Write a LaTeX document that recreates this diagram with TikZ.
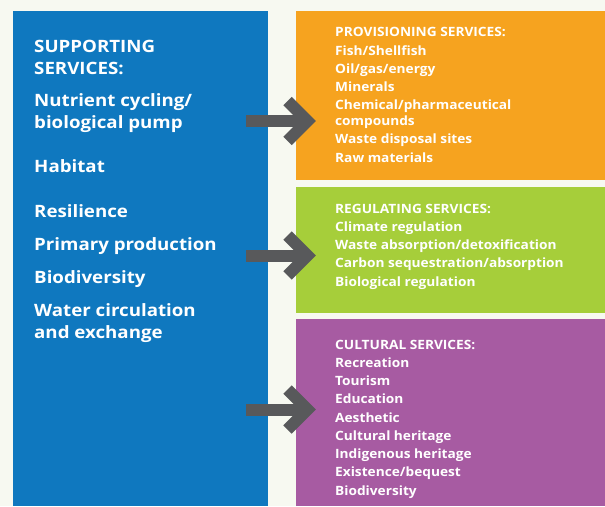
\documentclass[tikz,border=0pt]{standalone}
\usepackage{fontspec}
\setmainfont{Open Sans}
\newfontfamily\supfont{Open Sans}[FakeStretch=1.10]
\newfontfamily\listfont{Open Sans}[FakeStretch=1.07]
\usetikzlibrary{calc}
\definecolor{bgcol}{HTML}{F7F9F1}
\definecolor{supblue}{HTML}{0F78BF}
\definecolor{provorange}{HTML}{F6A31F}
\definecolor{reggreen}{HTML}{A6CE3A}
\definecolor{cultpurple}{HTML}{A75BA2}
\definecolor{arrowgray}{HTML}{58595B}
\tikzset{
  panel/.style={draw=none, anchor=north west, inner sep=0pt},
  bigtext/.style={anchor=base west, inner sep=0pt, text=white, align=left,
    font=\supfont\fontsize{17}{21.5}\selectfont\bfseries},
  listtext/.style={anchor=base west, inner sep=0pt, text=white, align=left,
    font=\listfont\fontsize{12.8}{18.25}\selectfont\bfseries},
  shaft/.style={draw=arrowgray, line width=12pt, line cap=butt},
  chevron/.style={draw=arrowgray, line width=12pt, line cap=butt, line join=miter}
}
\begin{document}
\begin{tikzpicture}[x=1pt, y=-1pt]
  % canvas
  \fill[bgcol] (0,0) rectangle (605,506);
  \useasboundingbox (0,0) rectangle (605,506);

  % coloured panels
  \node[panel, fill=supblue, minimum width=255pt, minimum height=495pt] (sup) at (13,11) {};
  \node[panel, fill=provorange, minimum width=309pt, minimum height=169pt] (prov) at (296,11) {};
  \node[panel, fill=reggreen, minimum width=309pt, minimum height=126pt] (reg) at (296,187) {};
  \node[panel, fill=cultpurple, minimum width=309pt, minimum height=187pt] (cult) at (296,319) {};

  % supporting services (multi-line nodes sit on their last baseline)
  \node[bigtext] (suphead) at (34,74) {SUPPORTING\\SERVICES:};
  \node[bigtext] (nutrient) at (34,128) {Nutrient cycling/\\biological pump};
  \node[bigtext] (habitat) at (34,172) {Habitat};
  \node[bigtext] (resil) at (34,217) {Resilience};
  \node[bigtext] (primary) at (34,250) {Primary production};
  \node[bigtext] (biodiv) at (34,283) {Biodiversity};
  \node[bigtext] (water) at (34,338) {Water circulation\\and exchange};

  % provisioning services
  \node[listtext] (provtext) at (335,162) {PROVISIONING SERVICES:\\Fish/Shellfish\\Oil/gas/energy\\Minerals\\Chemical/pharmaceutical\\[-2.5pt]compounds\\Waste disposal sites\\Raw materials};

  % regulating services
  \node[listtext] (regtext) at (335,286) {REGULATING SERVICES:\\Climate regulation\\Waste absorption/detoxification\\Carbon sequestration/absorption\\Biological regulation};

  % cultural services
  \node[listtext] (culttext) at (335,495) {CULTURAL SERVICES:\\Recreation\\Tourism\\Education\\Aesthetic\\Cultural heritage\\Indigenous heritage\\Existence/bequest\\Biodiversity};

  % arrows from supporting to the other services
  \coordinate (a1s) at (246,121);   \coordinate (a1e) at (307.5,121);
  \coordinate (a2s) at (246,255.5); \coordinate (a2e) at (307.5,255.5);
  \coordinate (a3s) at (246,409.5); \coordinate (a3e) at (307.5,409.5);
  \foreach \a in {a1,a2,a3}{
    \draw[shaft] (\a s) -- ($(\a e)+(-4,0)$);
    \draw[chevron] ($(\a e)+(-20,-20)$) -- (\a e) -- ($(\a e)+(-20,20)$);
  }
\end{tikzpicture}
\end{document}
